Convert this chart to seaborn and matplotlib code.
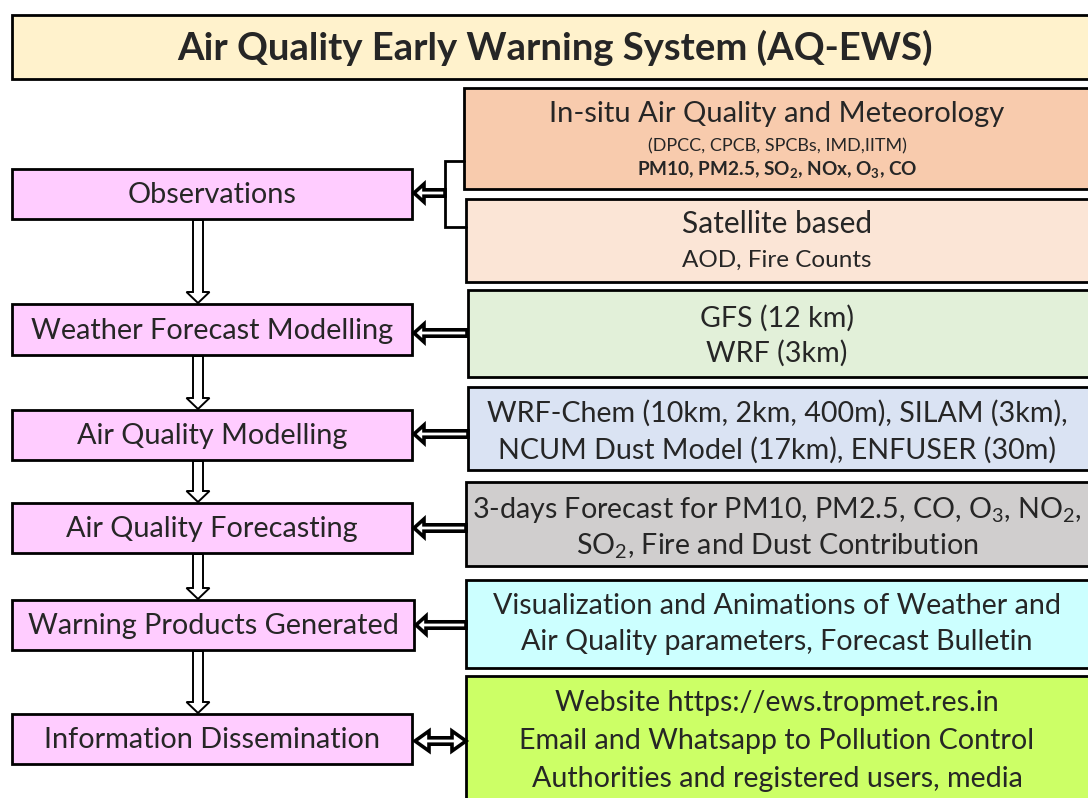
import matplotlib
matplotlib.use("Agg")
import matplotlib.pyplot as plt
from matplotlib.patches import Rectangle, Polygon
import seaborn as sns

# ---------------- data ----------------
title = "Air Quality Early Warning System (AQ-EWS)"
stage_labels = ["Observations", "Weather Forecast Modelling", "Air Quality Modelling",
                "Air Quality Forecasting", "Warning Products Generated",
                "Information Dissemination"]
source_lines = [
    ["In-situ Air Quality and Meteorology", "(DPCC, CPCB, SPCBs, IMD,IITM)",
     r"PM10, PM2.5, SO$_\mathbf{2}$, NOx, O$_\mathbf{3}$, CO"],
    ["Satellite based", "AOD, Fire Counts"],
    ["GFS (12 km)", "WRF (3km)"],
    ["WRF-Chem (10km, 2km, 400m), SILAM (3km),", "NCUM Dust Model (17km), ENFUSER (30m)"],
    [r"3-days Forecast for PM10, PM2.5, CO, O$_3$, NO$_2$,", r"SO$_2$, Fire and Dust Contribution"],
    ["Visualization and Animations of Weather and", "Air Quality parameters, Forecast Bulletin"],
    ["Website https://ews.tropmet.res.in", "Email and Whatsapp to Pollution Control",
     "Authorities and registered users, media"],
]

# ---------------- layout / style ----------------
title_fill = "#FFF2CC"
stage_fill = "#FFCCFF"
source_fills = ["#F8CBAD", "#FBE5D6", "#E2F0D9", "#DAE3F3", "#D0CECE", "#CCFFFF", "#CCFF66"]
stage_boxes = [(12, 169, 412, 219), (12, 304, 412, 355), (12, 410, 412, 460),
               (12, 503, 412, 553), (12, 600, 414, 650), (12, 714, 412, 764)]
source_boxes = [(464, 88, 1092, 189), (466, 199, 1092, 282), (468, 290, 1092, 377),
                (468, 387, 1092, 470), (466, 482, 1092, 566), (466, 580, 1092, 668),
                (466, 676, 1092, 802)]
source_line_y = [[114, 146, 170], [224, 260], [318, 353], [413, 450], [510, 546],
                 [606, 642], [703, 741, 779]]
M = 20.6
source_line_size = [[21, 13, 13.7], [21.5, 17.5], [M, M], [M, M], [M, M],
                    [M, M], [M, M, M]]
source_line_weight = [["normal", "normal", "bold"], ["normal", "normal"]] + [["normal"] * 3] * 5

sns.set_theme(style="white")
plt.rcParams['font.family'] = ['Lato', 'DejaVu Sans']
plt.rcParams['mathtext.fontset'] = 'custom'
plt.rcParams['mathtext.rm'] = 'Lato'
plt.rcParams['mathtext.it'] = 'Lato:italic'
plt.rcParams['mathtext.bf'] = 'Lato:bold'

fig = plt.figure(figsize=(10.88, 7.98), dpi=100)
ax = fig.add_axes([0, 0, 1, 1])
ax.set_xlim(0, 1088)
ax.set_ylim(798, 0)
ax.axis("off")


def box(x0, y0, x1, y1, fc, lw=2.0):
    ax.add_patch(Rectangle((x0, y0), x1 - x0, y1 - y0, facecolor=fc,
                           edgecolor="black", linewidth=lw, zorder=2))


# title
box(12, 15, 1092, 79, title_fill)
ax.text(555, 48, title, ha="center", va="center", fontsize=27.5, fontweight="bold", zorder=3)

# stage boxes
for (x0, y0, x1, y1), lab in zip(stage_boxes, stage_labels):
    box(x0, y0, x1, y1, stage_fill)
    ax.text((x0 + x1) / 2, (y0 + y1) / 2 + 1, lab, ha="center", va="center",
            fontsize=20.8, zorder=3)

# source boxes
for (x0, y0, x1, y1), fc, lines, ys, sz, wt in zip(source_boxes, source_fills, source_lines,
                                                   source_line_y, source_line_size,
                                                   source_line_weight):
    box(x0, y0, x1, y1, fc)
    for t, yy, s, w in zip(lines, ys, sz, wt):
        ax.text(777, yy, t, ha="center", va="center", fontsize=s, fontweight=w, zorder=3)


def down_arrow(cx, y0, y1, hw=5, hh=11.5, hl=11):
    pts = [(cx - hw, y0), (cx + hw, y0), (cx + hw, y1 - hl), (cx + hh, y1 - hl),
           (cx, y1), (cx - hh, y1 - hl), (cx - hw, y1 - hl)]
    ax.add_patch(Polygon(pts, closed=True, facecolor="white", edgecolor="black",
                         linewidth=1.4, zorder=1))


def left_arrow(x_tail, x_tip, cy, hw=3.2, hh=9, hl=10, lw=2.6):
    pts = [(x_tail, cy - hw), (x_tip + hl, cy - hw), (x_tip + hl, cy - hh), (x_tip, cy),
           (x_tip + hl, cy + hh), (x_tip + hl, cy + hw), (x_tail, cy + hw)]
    ax.add_patch(Polygon(pts, closed=True, facecolor="white", edgecolor="black",
                         linewidth=lw, zorder=4, joinstyle="miter"))


def double_arrow(x0, x1, cy, hw=3.2, hh=10, hl=14, lw=2.6):
    pts = [(x0, cy), (x0 + hl, cy - hh), (x0 + hl, cy - hw), (x1 - hl, cy - hw),
           (x1 - hl, cy - hh), (x1, cy), (x1 - hl, cy + hh), (x1 - hl, cy + hw),
           (x0 + hl, cy + hw), (x0 + hl, cy + hh)]
    ax.add_patch(Polygon(pts, closed=True, facecolor="white", edgecolor="black",
                         linewidth=lw, zorder=4, joinstyle="miter"))


# vertical flow arrows
for (a, b) in zip(stage_boxes[:-1], stage_boxes[1:]):
    down_arrow(198, a[3] + 1, b[1] - 1)

# bracket from observation sources
ax.plot([464, 445, 445, 466], [161, 161, 227, 227], color="black", lw=2.0, zorder=3,
        solid_joinstyle="miter")
left_arrow(445, 414, 193)

# horizontal arrows to the stage boxes
left_arrow(467, 414, 333)
left_arrow(468, 414, 434)
left_arrow(466, 414, 528)
left_arrow(466, 416, 625)
double_arrow(415, 466, 741)

fig.savefig("out.png", dpi=100)
